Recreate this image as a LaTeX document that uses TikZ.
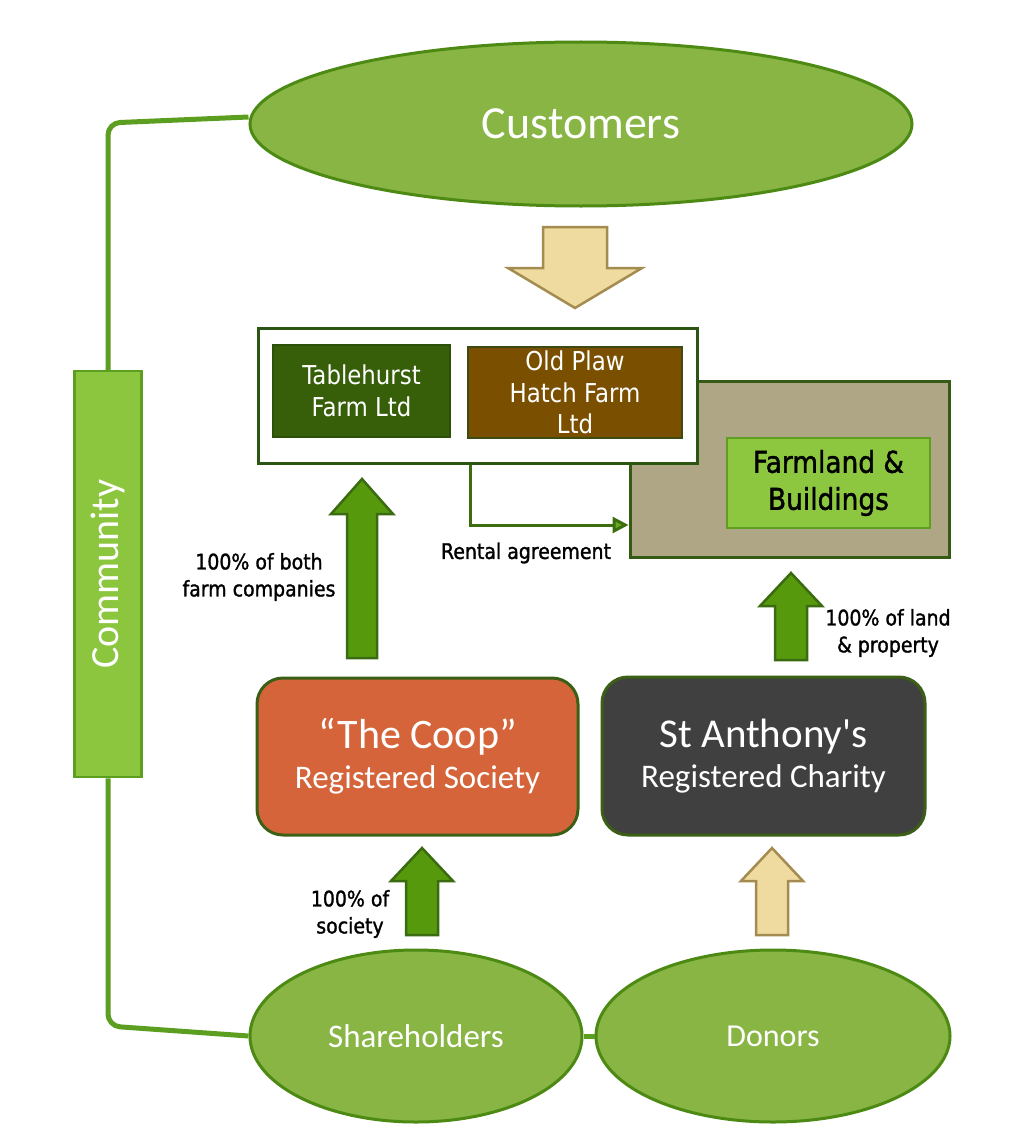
\documentclass[tikz,border=0pt]{standalone}
\usepackage{fontspec}
\setmainfont{Carlito}
\newfontfamily\tah[FakeStretch=0.88]{DejaVu Sans}
\newfontfamily\tahb[FakeStretch=0.88,FakeBold=1.3]{DejaVu Sans}
\usetikzlibrary{shapes.geometric,arrows.meta}
\definecolor{ellfill}{HTML}{88B544}
\definecolor{ellline}{HTML}{4D8A14}
\definecolor{barfill}{HTML}{8CC63F}
\definecolor{barline}{HTML}{5C9E1F}
\definecolor{connc}{HTML}{5C9E1F}
\definecolor{garrfill}{HTML}{57990D}
\definecolor{garrline}{HTML}{3A6B10}
\definecolor{tanfill}{HTML}{EFDAA0}
\definecolor{tanline}{HTML}{A48C50}
\definecolor{coopc}{HTML}{D5643A}
\definecolor{stantc}{HTML}{404040}
\definecolor{boxline}{HTML}{3B5F15}
\definecolor{tblc}{HTML}{375F0A}
\definecolor{tblline}{HTML}{2C4F0A}
\definecolor{olpc}{HTML}{7A5000}
\definecolor{olpline}{HTML}{3D4A12}
\definecolor{khaki}{HTML}{AEA685}
\definecolor{khline}{HTML}{355A14}
\definecolor{outline}{HTML}{2D5512}
\definecolor{farmin}{HTML}{8DC63F}
\definecolor{farminline}{HTML}{5E9E20}
\definecolor{rentc}{HTML}{3C6E10}
\definecolor{renttip}{HTML}{6AAA1E}
\begin{document}
\begin{tikzpicture}[x=1pt,y=-1pt,
  ell/.style={ellipse, draw=ellline, line width=3pt, fill=ellfill, inner sep=0pt, text=white},
  conn/.style={draw=connc, line width=5pt, rounded corners=12pt},
  garr/.style={draw=garrline, line width=2.5pt, fill=garrfill, line join=miter},
  tarr/.style={draw=tanline, line width=2.5pt, fill=tanfill, line join=miter},
  rbox/.style={draw=boxline, line width=3pt, rounded corners=26pt, inner sep=0pt, text=white, align=center},
  sbox/.style={line width=2pt, inner sep=0pt, text=white, align=center},
  lbl/.style={text=black, align=center, font=\tahb\fontsize{21.5}{27}\selectfont, inner sep=0pt}
]
\useasboundingbox (0,0) rectangle (1013,1124);
\fill[white] (0,0) rectangle (1013,1124);

% ellipses
\node[ell, minimum width=662pt, minimum height=164pt] (cust) at (581,124)
  {\fontsize{46}{50}\selectfont Customers};
\node[ell, minimum width=332pt, minimum height=172pt] (share) at (416,1036)
  {\fontsize{33}{36}\selectfont Shareholders};
\node[ell, minimum width=354pt, minimum height=172pt] (donor) at (773,1036)
  {\fontsize{32}{36}\selectfont Donors};

% community bar
\node[draw=barline, fill=barfill, line width=2.5pt, minimum width=67pt, minimum height=406pt, inner sep=0pt] (comm) at (108,574) {};
\node[rotate=90, text=white, inner sep=0pt] (commtxt) at (comm.center) {\fontsize{40}{44}\selectfont Community};

% community connectors
\draw[conn] ([yshift=7pt]cust.west) -- (108,123) -- (comm.north);
\draw[conn] (comm.south) -- (108,1026) -- (share.west);
\draw[conn, rounded corners=0pt] (share.east) -- (donor.west);

% farmland
\node[draw=khline, fill=khaki, line width=3pt, minimum width=319pt, minimum height=176pt, inner sep=0pt] (farmout) at (789.5,469) {};
\node[draw=farminline, fill=farmin, line width=1.5pt, minimum width=203pt, minimum height=90pt, inner sep=0pt, align=center,
  font=\tahb\fontsize{30}{37}\selectfont] (farmin) at (828.5,483) {Farmland \&\\Buildings};

% farm companies
\node[draw=outline, fill=white, line width=3pt, minimum width=439pt, minimum height=135pt, inner sep=0pt] (outer) at (477.5,395.5) {};
\node[sbox, draw=tblline, fill=tblc, minimum width=177pt, minimum height=92pt,
  font=\tah\fontsize{26}{32}\selectfont] (tbl) at (361.5,391) {Tablehurst\\Farm Ltd};
\node[sbox, draw=olpline, fill=olpc, minimum width=214pt, minimum height=91pt,
  font=\tah\fontsize{26}{31.5}\selectfont] (olp) at (575,392.5) {Old Plaw\\Hatch Farm\\Ltd};

% rental agreement
\coordinate (rstart) at (outer.south -| 470,0);
\draw[draw=rentc, line width=3pt, -{Triangle[length=16pt,width=16pt,fill=renttip]}]
  (rstart) |- (farmout.west |- 0,525);
\node[lbl] (rentlbl) at (526,553) {Rental agreement};

% societies
\node[rbox, fill=coopc, minimum width=321pt, minimum height=157pt,
  font=\fontsize{33}{40}\selectfont] (coop) at (417.5,756.5)
  {{\fontsize{42}{40}\selectfont “The Coop”}\\Registered Society};
\node[rbox, fill=stantc, minimum width=323pt, minimum height=158pt,
  font=\fontsize{33}{40}\selectfont] (stant) at (763.5,756)
  {{\fontsize{41}{40}\selectfont St Anthony\textquotesingle s}\\Registered Charity};

% block arrows
\draw[tarr] (575,308) -- (642,268) -- (607,268) -- (607,227) -- (543,227) -- (543,268) -- (508,268) -- cycle;
\draw[garr] (362,479) -- (393,514) -- (377,514) -- (377,658) -- (347,658) -- (347,514) -- (331,514) -- cycle;
\draw[garr] (791,573) -- (822,606) -- (807,606) -- (807,660) -- (775,660) -- (775,606) -- (760,606) -- cycle;
\draw[garr] (422,848) -- (453,881) -- (438,881) -- (438,935) -- (406,935) -- (406,881) -- (391,881) -- cycle;
\draw[tarr] (772,848) -- (803,881) -- (788,881) -- (788,935) -- (756,935) -- (756,881) -- (741,881) -- cycle;

% labels
\node[lbl] (l1) at (259,577) {100\% of both\\farm companies};
\node[lbl] (l2) at (888,633) {100\% of land\\\& property};
\node[lbl] (l3) at (350,914) {100\% of\\society};
\end{tikzpicture}
\end{document}
